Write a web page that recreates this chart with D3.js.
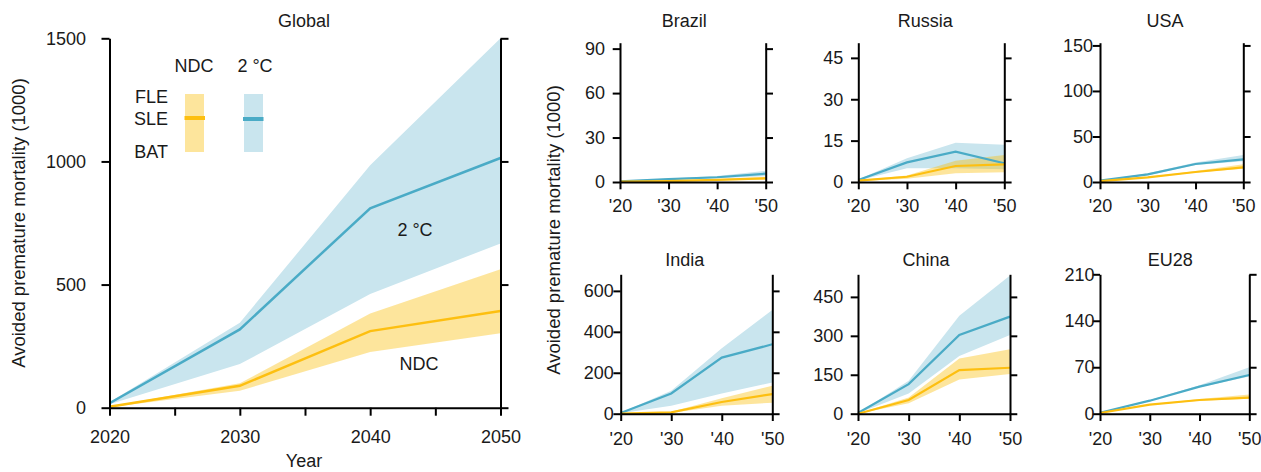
<!DOCTYPE html>
<html>
<head>
<meta charset="utf-8">
<script src="https://cdn.jsdelivr.net/npm/d3@7"></script>
<style>
  html, body { margin: 0; padding: 0; background: #fff; }
  svg { display: block; }
  text { font-family: "Liberation Sans", Arial, Helvetica, sans-serif; fill: #1a1a1a; }
</style>
</head>
<body>
<svg id="chart" width="1261" height="472"></svg>
<script>
// ---------- data ----------
const years = [2020, 2030, 2040, 2050];

const globalTwoLine = [18, 318, 810, 1014];
const globalTwoHigh = [22, 345, 985, 1500];
const globalTwoLow  = [14, 177, 462, 667];
const globalNdcLine = [4, 89, 311, 393];
const globalNdcHigh = [5, 99, 383, 562];
const globalNdcLow  = [2, 69, 226, 302];

const brazilTwoLine = [0.5, 2.0, 3.2, 5.6];
const brazilTwoHigh = [0.7, 2.4, 4.0, 7.6];
const brazilTwoLow  = [0.3, 1.6, 2.6, 4.0];
const brazilNdcLine = [0.2, 0.6, 1.5, 2.5];
const brazilNdcHigh = [0.3, 0.8, 2.0, 3.5];
const brazilNdcLow  = [0.1, 0.4, 1.1, 1.6];

const russiaTwoLine = [0.7, 7.1, 11.0, 6.8];
const russiaTwoHigh = [0.9, 8.6, 14.2, 13.5];
const russiaTwoLow  = [0.5, 5.0, 5.0, 4.6];
const russiaNdcLine = [0.5, 1.9, 5.8, 6.4];
const russiaNdcHigh = [0.6, 2.4, 7.7, 9.8];
const russiaNdcLow  = [0.4, 1.2, 3.2, 3.5];

const usaTwoLine = [1.5, 8.4, 19.8, 24.9];
const usaTwoHigh = [1.7, 9.5, 21.5, 29.7];
const usaTwoLow  = [1.3, 7.5, 18.8, 22.8];
const usaNdcLine = [1.0, 5.1, 11.0, 16.1];
const usaNdcHigh = [1.1, 5.6, 12.0, 19.4];
const usaNdcLow  = [0.9, 4.7, 10.3, 14.6];

const indiaTwoLine = [3, 99, 274, 339];
const indiaTwoHigh = [5, 112, 320, 507];
const indiaTwoLow  = [2, 39, 99, 152];
const indiaNdcLine = [0, 6.5, 57, 96];
const indiaNdcHigh = [0.5, 9, 75, 137];
const indiaNdcLow  = [0, 3, 39, 54];

const chinaTwoLine = [2.6, 114, 303, 374];
const chinaTwoHigh = [3, 127, 377, 532];
const chinaTwoLow  = [2, 78, 222, 303];
const chinaNdcLine = [0, 53, 168, 177];
const chinaNdcHigh = [0.5, 62, 213, 248];
const chinaNdcLow  = [0, 40, 132, 153];

const eu28TwoLine = [1.5, 19.6, 40.7, 58.3];
const eu28TwoHigh = [1.7, 20.5, 43.0, 69.8];
const eu28TwoLow  = [1.3, 19.0, 40.0, 56.0];
const eu28NdcLine = [1.0, 13.6, 20.6, 24.1];
const eu28NdcHigh = [1.1, 14.0, 22.0, 29.1];
const eu28NdcLow  = [0.9, 13.0, 19.5, 22.5];

// tick values / labels
const globalYTicks = [0, 500, 1000, 1500];
const globalXTicks = [2020, 2025, 2030, 2035, 2040, 2045, 2050];
const globalXLabels = [2020, 2030, 2040, 2050];
const smallXLabels = ["'20", "'30", "'40", "'50"];
const brazilYTicks = [0, 30, 60, 90];
const russiaYTicks = [0, 15, 30, 45];
const usaYTicks = [0, 50, 100, 150];
const indiaYTicks = [0, 200, 400, 600];
const chinaYTicks = [0, 150, 300, 450];
const eu28YTicks = [0, 70, 140, 210];

// ---------- styles ----------
const BLUE_BAND = "#c9e5ee";
const BLUE_LINE = "#4aabc6";
const ORANGE_BAND = "rgba(250,188,0,0.39)";
const ORANGE_LINE = "#fdbf10";
const FONT = 18;

// ---------- layout ----------
const panels = [
  { name: "Global", two: [globalTwoLine, globalTwoHigh, globalTwoLow], ndc: [globalNdcLine, globalNdcHigh, globalNdcLow],
    yTicks: globalYTicks, yMax: 1500, L: 109.5, R: 500.5, y0: 407.7, yTop: 38.3, tl: 8, pad: 23.5,
    titleX: 304, titleY: 27, xLabelY: 443, big: true, lw: 2.5 },
  { name: "Brazil", two: [brazilTwoLine, brazilTwoHigh, brazilTwoLow], ndc: [brazilNdcLine, brazilNdcHigh, brazilNdcLow],
    yTicks: brazilYTicks, yMax: 94, L: 620, R: 765.7, y0: 182, yTop: 42.7, tl: 7.3, pad: 15,
    titleX: 684.2, titleY: 27.3, xLabelY: 212, lw: 2.2 },
  { name: "Russia", two: [russiaTwoLine, russiaTwoHigh, russiaTwoLow], ndc: [russiaNdcLine, russiaNdcHigh, russiaNdcLow],
    yTicks: russiaYTicks, yMax: 50.5, L: 858.3, R: 1004.3, y0: 182, yTop: 42.7, tl: 7.3, pad: 15,
    titleX: 925.3, titleY: 27.3, xLabelY: 212, lw: 2.2 },
  { name: "USA", two: [usaTwoLine, usaTwoHigh, usaTwoLow], ndc: [usaNdcLine, usaNdcHigh, usaNdcLow],
    yTicks: usaYTicks, yMax: 153, L: 1100, R: 1243.3, y0: 182, yTop: 42.7, tl: 7.3, pad: 7,
    titleX: 1165, titleY: 27.3, xLabelY: 212, lw: 2.2 },
  { name: "India", two: [indiaTwoLine, indiaTwoHigh, indiaTwoLow], ndc: [indiaNdcLine, indiaNdcHigh, indiaNdcLow],
    yTicks: indiaYTicks, yMax: 681, L: 620.7, R: 772.3, y0: 413.7, yTop: 274.3, tl: 7.3, pad: 7,
    titleX: 684.7, titleY: 266, xLabelY: 445, lw: 2.2 },
  { name: "China", two: [chinaTwoLine, chinaTwoHigh, chinaTwoLow], ndc: [chinaNdcLine, chinaNdcHigh, chinaNdcLow],
    yTicks: chinaYTicks, yMax: 537, L: 858, R: 1010, y0: 413.7, yTop: 274.3, tl: 7.3, pad: 14.7,
    titleX: 926, titleY: 266, xLabelY: 445, lw: 2.2 },
  { name: "EU28", two: [eu28TwoLine, eu28TwoHigh, eu28TwoLow], ndc: [eu28NdcLine, eu28NdcHigh, eu28NdcLow],
    yTicks: eu28YTicks, yMax: 210, L: 1100, R: 1249.3, y0: 413.7, yTop: 274.3, tl: 7.3, pad: 5.5,
    titleX: 1170.3, titleY: 266, xLabelY: 445, lw: 2.2 }
];

const svg = d3.select("#chart");

function styleAxis(g) {
  g.selectAll("path.domain").attr("stroke", "#000").attr("stroke-width", 2);
  g.selectAll(".tick line").attr("stroke", "#000").attr("stroke-width", 2);
  g.selectAll("text").attr("font-size", FONT).attr("fill", "#1a1a1a");
  g.attr("font-size", null).attr("font-family", null);
}

panels.forEach(p => {
  const g = svg.append("g");
  const x = d3.scaleLinear().domain([2020, 2050]).range([p.L, p.R]);
  const y = d3.scaleLinear().domain([0, p.yMax]).range([p.y0, p.yTop]);

  const area = (hi, lo) => d3.area()
    .x((d, i) => x(years[i]))
    .y0((d, i) => y(lo[i]))
    .y1((d, i) => y(hi[i]))(years);
  const line = vals => d3.line()
    .x((d, i) => x(years[i]))
    .y((d, i) => y(vals[i]))(years);

  g.append("path").attr("d", area(p.two[1], p.two[2])).attr("fill", BLUE_BAND);
  g.append("path").attr("d", area(p.ndc[1], p.ndc[2])).attr("fill", ORANGE_BAND);
  g.append("path").attr("d", line(p.two[0])).attr("fill", "none").attr("stroke", BLUE_LINE).attr("stroke-width", p.lw);
  g.append("path").attr("d", line(p.ndc[0])).attr("fill", "none").attr("stroke", ORANGE_LINE).attr("stroke-width", p.lw);

  // axes
  const left = g.append("g").attr("transform", `translate(${p.L},0)`)
    .call(d3.axisLeft(y).tickValues(p.yTicks).tickSize(p.tl).tickSizeOuter(0)
      .tickPadding(p.pad - p.tl).tickFormat(d => String(d)));
  styleAxis(left);
  const right = g.append("g").attr("transform", `translate(${p.R},0)`)
    .call(d3.axisRight(y).tickValues(p.yTicks).tickSize(p.tl).tickSizeOuter(0).tickFormat(""));
  styleAxis(right);

  let bottomAxis;
  if (p.big) {
    bottomAxis = d3.axisBottom(x).tickValues(globalXTicks).tickSize(p.tl).tickSizeOuter(0)
      .tickFormat(d => globalXLabels.includes(d) ? String(d) : "");
  } else {
    bottomAxis = d3.axisBottom(x).tickValues(years).tickSize(p.tl).tickSizeOuter(0)
      .tickFormat((d, i) => smallXLabels[i]);
  }
  const bottom = g.append("g").attr("transform", `translate(0,${p.y0})`).call(bottomAxis);
  styleAxis(bottom);
  bottom.selectAll("text").attr("dy", null).attr("y", p.xLabelY - p.y0);

  g.append("text").attr("x", p.titleX).attr("y", p.titleY)
    .attr("text-anchor", "middle").attr("font-size", FONT).text(p.name);
});

// axis titles
svg.append("text").attr("transform", "translate(25,223) rotate(-90)")
  .attr("text-anchor", "middle").attr("font-size", 18.5).text("Avoided premature mortality (1000)");
svg.append("text").attr("transform", "translate(560,230) rotate(-90)")
  .attr("text-anchor", "middle").attr("font-size", 18.5).text("Avoided premature mortality (1000)");
svg.append("text").attr("x", 304).attr("y", 467)
  .attr("text-anchor", "middle").attr("font-size", FONT).text("Year");

// in-plot labels
svg.append("text").attr("x", 415).attr("y", 236).attr("text-anchor", "middle").attr("font-size", FONT).text("2 °C");
svg.append("text").attr("x", 419).attr("y", 370).attr("text-anchor", "middle").attr("font-size", FONT).text("NDC");

// legend
const legend = svg.append("g");
legend.append("text").attr("x", 194).attr("y", 72).attr("text-anchor", "middle").attr("font-size", FONT).text("NDC");
legend.append("text").attr("x", 255).attr("y", 72).attr("text-anchor", "middle").attr("font-size", FONT).text("2 °C");
legend.append("text").attr("x", 168).attr("y", 102.5).attr("text-anchor", "end").attr("font-size", FONT).text("FLE");
legend.append("text").attr("x", 168).attr("y", 124.5).attr("text-anchor", "end").attr("font-size", FONT).text("SLE");
legend.append("text").attr("x", 168).attr("y", 157.5).attr("text-anchor", "end").attr("font-size", FONT).text("BAT");
legend.append("rect").attr("x", 185).attr("y", 94).attr("width", 19).attr("height", 58).attr("fill", ORANGE_BAND);
legend.append("rect").attr("x", 184.5).attr("y", 116).attr("width", 20.5).attr("height", 4).attr("fill", ORANGE_LINE);
legend.append("rect").attr("x", 244).attr("y", 94).attr("width", 19).attr("height", 58).attr("fill", BLUE_BAND);
legend.append("rect").attr("x", 243).attr("y", 117).attr("width", 20.5).attr("height", 4).attr("fill", BLUE_LINE);
</script>
</body>
</html>
